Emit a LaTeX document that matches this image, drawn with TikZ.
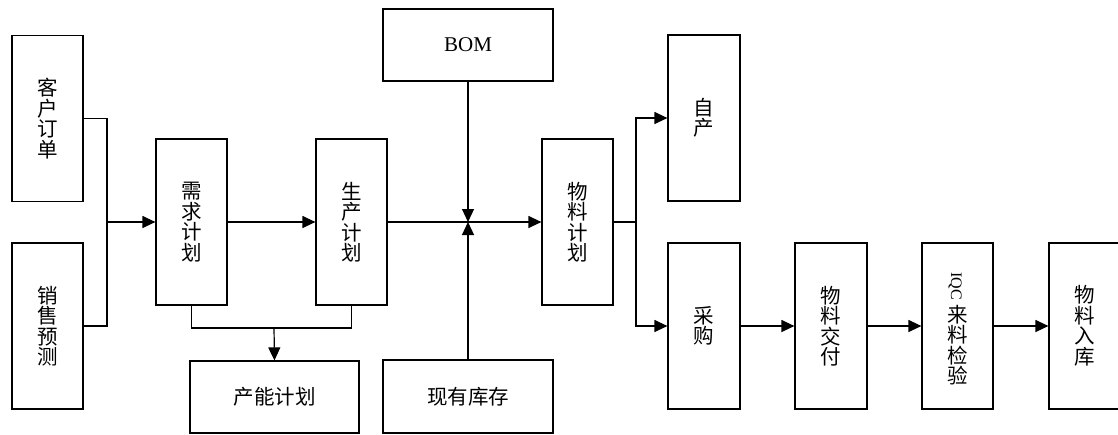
\documentclass[tikz,border=0pt]{standalone}
\usepackage{fontspec}
\setmainfont{Liberation Serif}
\newfontfamily\cjk{Noto Sans CJK SC}
\usetikzlibrary{arrows.meta}
\begin{document}
\begin{tikzpicture}[x=1pt,y=-1pt,
  box/.style={draw,line width=1.2pt,minimum width=71pt,align=center,inner sep=0pt,
    font=\cjk\fontsize{20.5}{20.5}\selectfont},
  tall/.style={box,minimum height=166pt},
  wide/.style={box,minimum width=170pt,minimum height=72pt},
  conn/.style={line width=1.2pt},
  arr/.style={conn,-{Triangle[length=13pt,width=12pt]}}]
\useasboundingbox (0,0) rectangle (1118,434);
\node[tall] (ko) at (47.5,118.5) {客\\户\\订\\单};
\node[tall] (xs) at (47.5,326) {销\\售\\预\\测};
\node[tall] (xq) at (191.5,222) {需\\求\\计\\划};
\node[tall] (sc) at (351.5,222) {生\\产\\计\\划};
\node[wide,minimum width=169pt] (cn) at (274.5,397) {产能计划};
\node[wide,font=\fontsize{21}{22}\selectfont] (bom) at (468,45) {BOM};
\node[wide,minimum height=73pt] (kc) at (468,396.5) {现有库存};
\node[tall] (wl) at (577.5,222) {物\\料\\计\\划};
\node[tall,minimum width=72pt] (zc) at (704,118) {自\\产};
\node[tall,minimum width=72pt] (cg) at (704,326) {采\\购};
\node[tall,minimum width=72pt] (jf) at (831,326) {物\\料\\交\\付};
\node[tall] (iqc) at (957.5,326) {};
\node[box,draw=none,minimum width=0pt] (iqct) at (957.5,345) {来\\料\\检\\验};
\node[inner sep=0pt] (iqcl) at (955,286) {\rotatebox[origin=c]{-90}{\scalebox{1.6}{IQC}}};
\node[tall] (rk) at (1084.5,326) {物\\料\\入\\库};
\coordinate (j1) at (107,222);
\coordinate (j2) at (274,328);
\coordinate (j3) at (468,222);
\coordinate (j4) at (636,222);
\draw[conn] (ko.east) -| (j1);
\draw[conn] (xs.east) -| (j1);
\draw[arr] (j1) -- (xq.west);
\draw[arr] (xq.east) -- (sc.west);
\draw[conn] (xq.south) |- (j2);
\draw[conn] (sc.south) |- (j2);
\draw[arr] (j2) -- (cn.north);
\draw[arr] (sc.east) -- (wl.west);
\draw[arr] (bom.south) -- (j3);
\draw[arr] (kc.north) -- (j3);
\draw[conn] (wl.east) -- (j4);
\draw[arr] (j4) |- (zc.west);
\draw[arr] (j4) |- (cg.west);
\draw[arr] (cg.east) -- (jf.west);
\draw[arr] (jf.east) -- (iqc.west);
\draw[arr] (iqc.east) -- (rk.west);
\end{tikzpicture}
\end{document}
